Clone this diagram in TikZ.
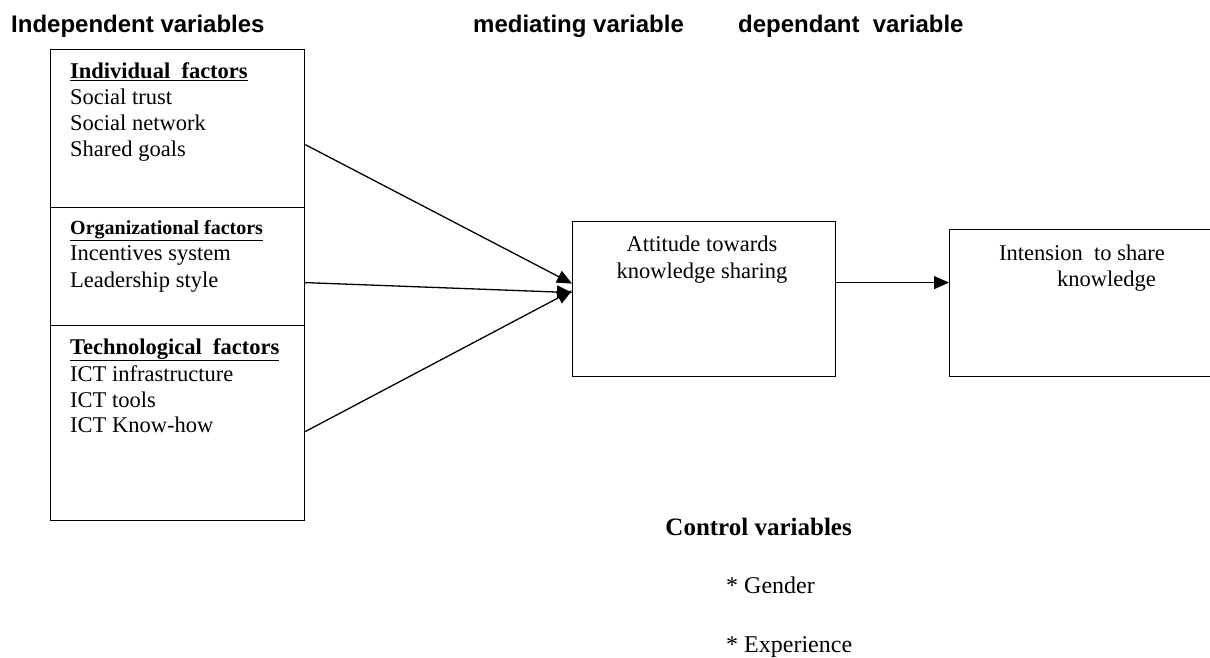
\documentclass[tikz,border=0pt]{standalone}
\usepackage{fontspec}
\setmainfont{Liberation Serif}
\newfontfamily\hdrfont{Liberation Sans}
\usetikzlibrary{arrows.meta}
\begin{document}
\begin{tikzpicture}[x=1pt,y=-1pt,
  box/.style={draw, line width=1.2pt, anchor=north west, inner sep=0pt},
  hdr/.style={anchor=base west, inner sep=0pt, font=\hdrfont\bfseries\fontsize{24}{28}\selectfont},
  body/.style={anchor=base west, inner sep=0pt, font=\fontsize{22.5}{27}\selectfont},
  ctr/.style={anchor=base, inner sep=0pt, font=\fontsize{22.5}{27}\selectfont},
  conn/.style={line width=1.3pt, -{Triangle[length=15pt,width=13pt]}}]
\useasboundingbox (0,0) rectangle (1210,658);
% headers
\node[hdr] (h1) at (11,33) {Independent variables};
\node[hdr] (h2) at (473,33) {mediating variable};
\node[hdr] (h3) at (738,33) {dependant\ \ variable};
% left boxes
\node[box, minimum width=254pt, minimum height=158pt] (ind) at (50,49) {};
\node[box, minimum width=254pt, minimum height=118pt] (org) at (50,207) {};
\node[box, minimum width=254pt, minimum height=195pt] (tech) at (50,325) {};
% individual
\node[body] (t1) at (70,79) {\textbf{\underline{Individual\ \ factors}}};
\node[body] (t1a) at (70,105) {Social trust};
\node[body] (t1b) at (70,131) {Social network};
\node[body] (t1c) at (70,157) {Shared goals};
% organizational
\node[body, font=\fontsize{20}{24}\selectfont] (t2) at (70,234) {\textbf{\underline{Organizational factors}}};
\node[body] (t2a) at (70,260) {Incentives system};
\node[body] (t2b) at (70,287) {Leadership style};
% technological
\node[body] (t3) at (70,354) {\textbf{\underline{Technological\ \ factors}}};
\node[body] (t3a) at (70,381) {ICT infrastructure};
\node[body] (t3b) at (70,407) {ICT tools};
\node[body] (t3c) at (70,432) {ICT Know-how};
% mediating box
\node[box, minimum width=263pt, minimum height=155pt] (att) at (572,221) {};
\node[ctr] (att1) at (702,251) {Attitude towards};
\node[ctr] (att2) at (702,278) {knowledge sharing};
% dependent box
\node[box, minimum width=261pt, minimum height=147pt] (int) at (949,229) {};
\node[body] (int1) at (999,260) {Intension\ \ to share};
\node[body] (int2) at (1057,286) {knowledge};
% connectors
\draw[conn] ([yshift=-16pt]ind.east) -- ([yshift=15.5pt]att.west);
\draw[conn] ([yshift=-16pt]org.east) -- ([yshift=6.5pt]att.west);
\draw[conn] ([yshift=-8.5pt]tech.east) -- ([yshift=8.5pt]att.west);
\draw[conn] ([yshift=16.5pt]att.east) -- ([yshift=20.5pt]int.west);
% control variables
\node[anchor=base east, inner sep=0pt, font=\bfseries\fontsize{25}{30}\selectfont] (cv) at (852,535) {Control variables};
\node[anchor=base west, inner sep=0pt, font=\fontsize{24}{28}\selectfont] (cv1) at (726,593) {* Gender};
\node[anchor=base west, inner sep=0pt, font=\fontsize{24}{28}\selectfont] (cv2) at (726,652) {* Experience};
\end{tikzpicture}
\end{document}
